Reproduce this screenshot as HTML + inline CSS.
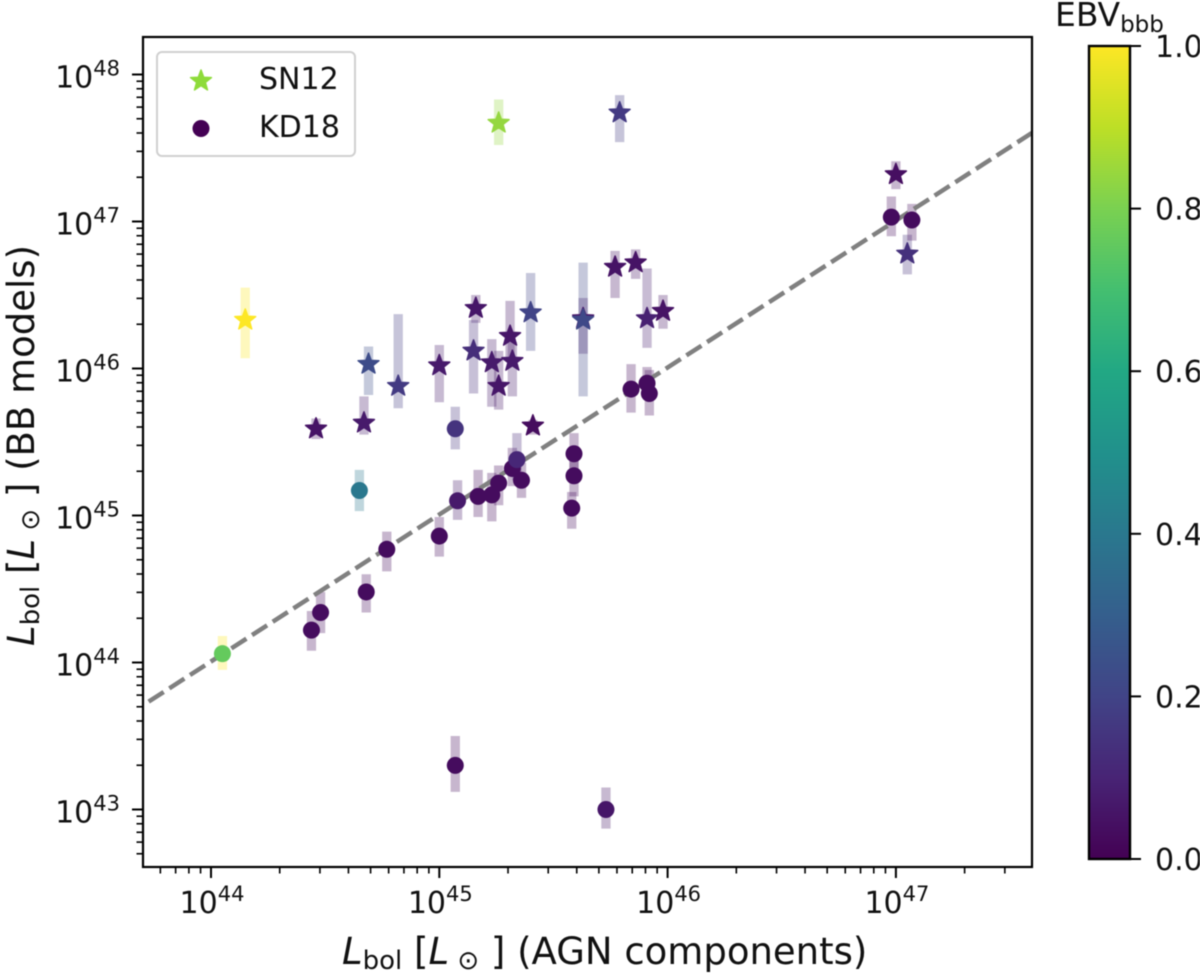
<!DOCTYPE html>
<html lang="en">
<head>
<meta charset="utf-8">
<title>Lbol comparison</title>
<style>
html,body{margin:0;padding:0;background:#fff;}
body{width:1200px;height:974px;overflow:hidden;}
svg{display:block;filter:blur(0.6px);}
text{font-family:"DejaVu Sans","Liberation Sans",sans-serif;fill:#111;}
</style>
</head>
<body>
<svg id="chart" xmlns="http://www.w3.org/2000/svg" width="1200" height="974" viewBox="0 0 1200 974">
  <defs>
    <linearGradient id="viridis" x1="0" y1="1" x2="0" y2="0"></linearGradient>
    <clipPath id="plot-clip"><rect x="143" y="37" width="889" height="830"></rect></clipPath>
  </defs>
  <rect x="0" y="0" width="1200" height="974" fill="#fff"></rect>
  <g id="errs" clip-path="url(#plot-clip)"></g>
  <line id="oneToOne" clip-path="url(#plot-clip)" stroke="#808080" stroke-width="4.5" stroke-dasharray="17.9 6.7" stroke-dashoffset="17.9"></line>
  <g id="marks" clip-path="url(#plot-clip)"></g>
  <g id="ticks"></g>
  <rect x="143" y="37" width="889" height="830" fill="none" stroke="#000" stroke-width="2.2"></rect>

  <g>
    <rect x="157" y="52" width="198" height="104" rx="5" fill="#fff" fill-opacity="0.8" stroke="#d0d0d0" stroke-width="2"></rect>
    <polygon id="legendStar" fill="#8edb3a" stroke="#8edb3a" stroke-width="1.5" stroke-linejoin="round"></polygon>
    <circle cx="201" cy="128.500" r="8.500" fill="#440154"></circle>
    <text x="259" y="89" font-size="30">SN12</text>
    <text x="259" y="137" font-size="30">KD18</text>
  </g>

  <text x="342" y="964" font-size="37"><tspan font-style="italic">L</tspan><tspan font-size="26" dy="5">bol</tspan><tspan dy="-5"> [</tspan><tspan font-style="italic">L</tspan><tspan font-size="26" dy="5"> ⊙</tspan><tspan dy="-5"> ] (AGN components)</tspan></text>
  <text transform="translate(34,646) rotate(-90)" font-size="37"><tspan font-style="italic">L</tspan><tspan font-size="26" dy="5">bol</tspan><tspan dy="-5"> [</tspan><tspan font-style="italic">L</tspan><tspan font-size="26" dy="5"> ⊙</tspan><tspan dy="-5"> ] (BB models)</tspan></text>

  <g>
    <rect x="1089" y="46" width="41" height="813" fill="url(#viridis)" stroke="#000" stroke-width="2.4"></rect>
    <g id="cbTicks"></g>
    <text x="1055" y="26" font-size="33">EBV<tspan font-size="23" dy="6">bbb</tspan></text>
  </g>
</svg>
<script>
// log10 of L_bol from AGN components, stars (SN12)
const starX   = [44.15,45.26,45.79,47.00,47.05,45.77,45.86,45.91,45.98,45.40,45.63,45.63,45.16,45.15,45.23,45.31,45.32,45.26,45.00,44.82,44.69,44.67,44.46,45.41];
// log10 of L_bol from BB models, stars
const starY   = [46.33,47.67,47.74,47.32,46.78,46.69,46.72,46.34,46.39,46.38,46.34,46.33,46.41,46.12,46.04,46.22,46.05,45.88,46.02,45.88,46.03,45.63,45.59,45.61];
const starTop = [46.55,47.83,47.86,47.41,46.91,46.80,46.81,46.68,46.50,46.65,46.48,46.72,46.50,46.33,46.20,46.46,46.18,46.12,46.16,46.37,46.15,45.81,45.66,45.65];
const starBot = [46.07,47.52,47.54,47.22,46.64,46.48,46.61,46.14,46.27,46.12,46.10,45.81,46.31,45.83,45.74,46.08,45.81,45.72,45.77,45.73,45.82,45.55,45.52,45.55];
const starEbv = [1.00,0.84,0.17,0.04,0.14,0.05,0.05,0.09,0.05,0.20,0.06,0.22,0.06,0.13,0.07,0.06,0.07,0.06,0.07,0.17,0.23,0.07,0.05,0.03];

// circles (KD18)
const circX   = [44.05,44.44,44.48,44.68,44.77,45.00,45.08,45.17,45.23,45.26,45.32,45.34,45.36,45.59,45.59,45.58,45.84,45.91,45.92,46.98,47.07,45.07,45.73,45.07,44.65];
const circY   = [44.06,44.22,44.34,44.48,44.77,44.86,45.10,45.13,45.14,45.22,45.32,45.38,45.24,45.42,45.27,45.05,45.86,45.90,45.83,47.03,47.01,43.30,43.00,45.59,45.17];
const circTop = [44.18,44.35,44.48,44.60,44.89,44.99,45.24,45.31,45.29,45.34,45.46,45.56,45.36,45.56,45.43,45.16,46.03,46.01,45.99,47.17,47.12,43.50,43.15,45.74,45.31];
const circBot = [43.95,44.08,44.20,44.34,44.62,44.72,44.97,44.99,44.96,45.07,45.20,45.24,45.12,45.27,45.13,44.91,45.70,45.81,45.68,46.90,46.87,43.12,42.87,45.45,45.03];
const circEbv = [0.76,0.03,0.03,0.03,0.03,0.03,0.07,0.03,0.03,0.03,0.03,0.11,0.03,0.03,0.03,0.03,0.03,0.03,0.03,0.03,0.03,0.03,0.06,0.15,0.40];
const circErrEbv = [1.00,0.03,0.03,0.03,0.03,0.03,0.07,0.03,0.03,0.03,0.03,0.11,0.03,0.03,0.03,0.03,0.03,0.03,0.03,0.03,0.03,0.03,0.06,0.15,0.40];

const xMajorExp = [44,45,46,47];
const yMajorExp = [43,44,45,46,47,48];
const cbTickVals = [0.0,0.2,0.4,0.6,0.8,1.0];
const cbTickLabels = ['0.0','0.2','0.4','0.6','0.8','1.0'];
const viridisStops = ['#440154','#482475','#414487','#355f8d','#2a788e','#21918c','#22a884','#44bf70','#7ad151','#bddf26','#fde725'];

const NS = 'http://www.w3.org/2000/svg';
const LEFT = 143, RIGHT = 1032, TOP = 37, BOTTOM = 867;
const xAxis = v => 211 + (v - 44) * 228.3;
const yAxis = v => 662.5 - (v - 44) * 147;
const cbAxis = v => 859 - v * 813;
const X_MIN = 44 + (LEFT - 211) / 228.3, X_MAX = 44 + (RIGHT - 211) / 228.3;
const Y_MIN = 44 - (BOTTOM - 662.5) / 147, Y_MAX = 44 + (662.5 - TOP) / 147;

function mk(tag, attrs, parent) {
  const e = document.createElementNS(NS, tag);
  for (const k in attrs) e.setAttribute(k, attrs[k]);
  parent.appendChild(e);
  return e;
}
function hexRgb(h) { return [1, 3, 5].map(i => parseInt(h.substr(i, 2), 16)); }
function viridis(t) {
  const c = Math.max(0, Math.min(1, t)) * (viridisStops.length - 1);
  const i = Math.min(Math.floor(c), viridisStops.length - 2);
  const a = hexRgb(viridisStops[i]), b = hexRgb(viridisStops[i + 1]);
  const f = c - i;
  return 'rgb(' + a.map((v, j) => Math.round(v + (b[j] - v) * f)).join(',') + ')';
}
function starPoints(cx, cy, R) {
  const pts = [];
  for (let i = 0; i < 10; i++) {
    const r = i % 2 ? R * 0.42 : R;
    const a = -Math.PI / 2 + i * Math.PI / 5;
    pts.push((cx + r * Math.cos(a)).toFixed(2) + ',' + (cy + r * Math.sin(a)).toFixed(2));
  }
  return pts.join(' ');
}

const grad = document.getElementById('viridis');
viridisStops.forEach((c, i) => mk('stop', { offset: i / (viridisStops.length - 1), 'stop-color': c }, grad));

document.getElementById('legendStar').setAttribute('points', starPoints(201, 81, 11));

const ln = document.getElementById('oneToOne');
ln.setAttribute('x1', xAxis(X_MIN));
ln.setAttribute('y1', yAxis(X_MIN) - 1);
ln.setAttribute('x2', xAxis(X_MAX));
ln.setAttribute('y2', yAxis(X_MAX) - 1);

const errs = document.getElementById('errs');
const marks = document.getElementById('marks');

function drawErr(x, top, bot, ebv) {
  const l = mk('line', { x1: xAxis(x), x2: xAxis(x), y1: yAxis(top), y2: yAxis(bot), stroke: viridis(ebv), 'stroke-width': 9.3, 'stroke-opacity': 0.3 }, errs);
  
  
}
starX.forEach((x, i) => drawErr(x, starTop[i], starBot[i], starEbv[i]));
circX.forEach((x, i) => drawErr(x, circTop[i], circBot[i], circErrEbv[i]));

circX.forEach((x, i) => {
  const c = mk('circle', { cx: xAxis(x), cy: yAxis(circY[i]), r: 8.5, fill: viridis(circEbv[i]) }, marks);
  
  
});
starX.forEach((x, i) => {
  const col = viridis(starEbv[i]);
  const s = mk('polygon', { points: starPoints(xAxis(x), yAxis(starY[i]), 11), fill: col, stroke: col, 'stroke-width': 1.5, 'stroke-linejoin': 'round' }, marks);
  
  
});

const ticks = document.getElementById('ticks');
function tick(x1, y1, x2, y2, w) {
  const t = mk('line', { x1, y1, x2, y2, stroke: '#000', 'stroke-width': w }, ticks);
  
  
}
function expLabel(x, y, exp, anchor) {
  const t = mk('text', { x, y, 'font-size': 30, 'text-anchor': anchor }, ticks);
  t.textContent = '10';
  const s = mk('tspan', { 'font-size': 21, dy: -12 }, t);
  s.textContent = String(exp);
  
  
}
const minorFactors = [2, 3, 4, 5, 6, 7, 8, 9];
for (let d = 43; d <= 47; d++) {
  minorFactors.forEach(m => {
    const v = d + Math.log10(m);
    if (v >= X_MIN && v <= X_MAX) tick(xAxis(v), BOTTOM, xAxis(v), BOTTOM + 6.5, 1.6);
  });
}
for (let d = 42; d <= 48; d++) {
  minorFactors.forEach(m => {
    const v = d + Math.log10(m);
    if (v >= Y_MIN && v <= Y_MAX) tick(LEFT, yAxis(v), LEFT - 6.5, yAxis(v), 1.6);
  });
}
xMajorExp.forEach(e => {
  tick(xAxis(e), BOTTOM, xAxis(e), BOTTOM + 11, 2);
  expLabel(xAxis(e) + 1, 913, e, 'middle');
});
yMajorExp.forEach(e => {
  tick(LEFT, yAxis(e), LEFT - 11, yAxis(e), 2);
  expLabel(120, yAxis(e) + 13, e, 'end');
});

const cbT = document.getElementById('cbTicks');
cbTickVals.forEach((v, i) => {
  const t = mk('line', { x1: 1130, x2: 1141, y1: cbAxis(v), y2: cbAxis(v), stroke: '#000', 'stroke-width': 2 }, cbT);
  
  
  const l = mk('text', { x: 1155, y: cbAxis(v) + 11, 'font-size': 30 }, cbT);
  l.textContent = cbTickLabels[i];
  
  
});
</script>
</body>
</html>
